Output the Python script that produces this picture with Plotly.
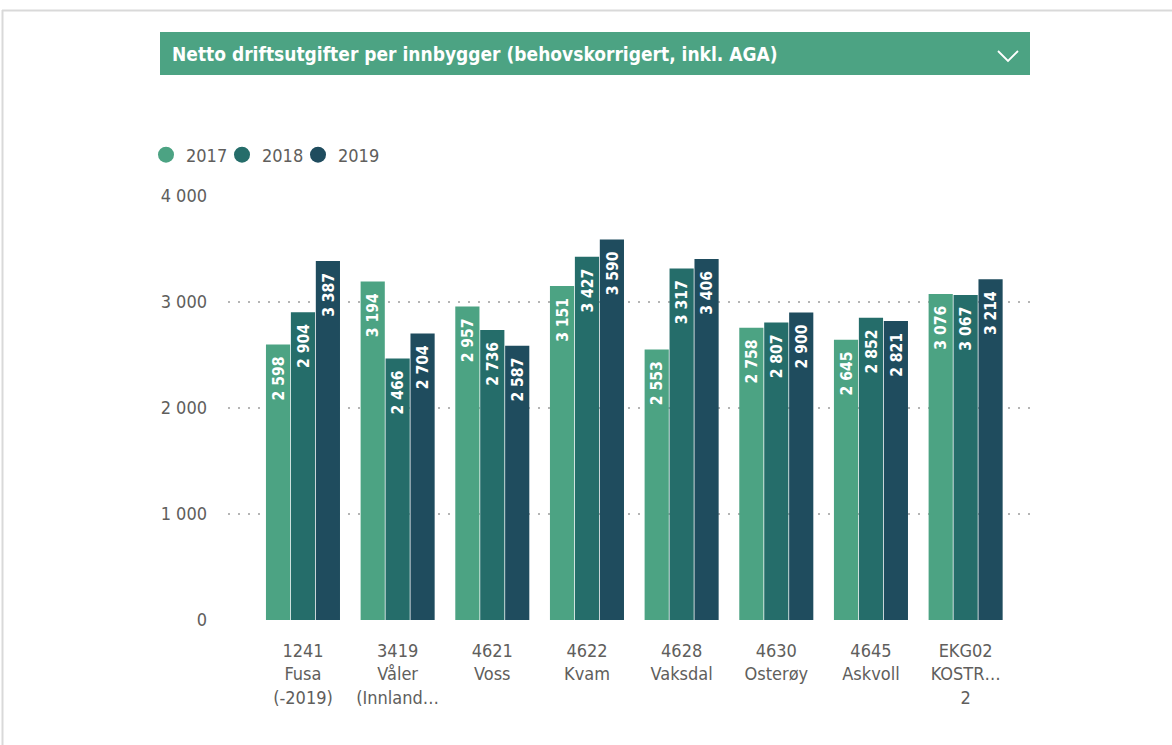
import plotly.graph_objects as go

categories = ["1241<br>Fusa<br>(-2019)", "3419<br>Våler<br>(Innland…", "4621<br>Voss", "4622<br>Kvam",
              "4628<br>Vaksdal", "4630<br>Osterøy", "4645<br>Askvoll", "EKG02<br>KOSTR…<br>2"]
years = ["2017", "2018", "2019"]
v2017 = [2598, 3194, 2957, 3151, 2553, 2758, 2645, 3076]
v2018 = [2904, 2466, 2736, 3427, 3317, 2807, 2852, 3067]
v2019 = [3387, 2704, 2587, 3590, 3406, 2900, 2821, 3214]
y_ticks = [0, 1000, 2000, 3000, 4000]
title_text = "Netto driftsutgifter per innbygger (behovskorrigert, inkl. AGA)"

colors = ["#4CA383", "#256D6A", "#1F4C5E"]
FONT = "DejaVu Sans Condensed"
GRAY = "#605E5C"

W, H = 1172, 745
# plot area in screen pixels
L, R, T, B = 228, 1030, 196, 620


def xp(px):
    return (px - L) / (R - L)


def yp(py):
    return (B - py) / (B - T)


def fmt(v):
    return f"{v:,}".replace(",", " ")


fig = go.Figure()
for i, (name, vals, col) in enumerate(zip(years, [v2017, v2018, v2019], colors)):
    fig.add_trace(go.Bar(
        x=list(range(len(categories))), y=vals, name=name, marker=dict(color=col, line=dict(width=0)),
        text=[f"<b>{fmt(v)}</b>\u00a0\u00a0" for v in vals], textposition="inside", insidetextanchor="end",
        textangle=-90, textfont=dict(color="white", size=18, family=FONT),
        showlegend=False, hoverinfo="x+y",
    ))
    fig.add_trace(go.Scatter(
        x=[None], y=[None], mode="markers", name=name,
        marker=dict(color=col, size=16, symbol="circle"), showlegend=True,
        legendwidth=31 if i < len(years) - 1 else 60,
    ))

fig.update_layout(
    width=W, height=H,
    margin=dict(l=L, r=W - R, t=T, b=H - B, pad=0),
    plot_bgcolor="white", paper_bgcolor="white",
    barmode="group", bargap=0.21, bargroupgap=0.03,
    separators=". ",
    font=dict(family=FONT, color=GRAY, size=17),
    legend=dict(orientation="h", x=xp(146), y=yp(155), xanchor="left", yanchor="middle",
                font=dict(size=18, color=GRAY, family=FONT), itemwidth=30,
                bgcolor="rgba(0,0,0,0)", tracegroupgap=0, traceorder="normal"),
    xaxis=dict(tickmode="array", tickvals=list(range(len(categories))), ticktext=categories,
               range=[-0.792, 7.68], showgrid=False, zeroline=False, showline=False,
               tickfont=dict(size=18, color=GRAY, family=FONT), ticks="", ticklabelstandoff=18),
    yaxis=dict(range=[0, 4000], tickvals=y_ticks, ticktext=[fmt(t) for t in y_ticks],
               showgrid=True, gridcolor="#B5B5B5", griddash="2px,8px", gridwidth=1.5,
               zeroline=False, showline=False, ticks="", ticklabelstandoff=20,
               tickfont=dict(size=18, color=GRAY, family=FONT)),
    shapes=[
        dict(type="rect", xref="paper", yref="paper", x0=xp(160), x1=xp(1030), y0=yp(32), y1=yp(75),
             fillcolor="#4CA383", line=dict(width=0), layer="above"),
        dict(type="path", xref="paper", yref="paper",
             path=f"M {xp(998)} {yp(51)} L {xp(1008)} {yp(61)} L {xp(1018)} {yp(51)}",
             line=dict(color="white", width=1.8), layer="above"),
        dict(type="line", xref="paper", yref="paper", x0=xp(2), x1=xp(1172), y0=yp(10.5), y1=yp(10.5),
             line=dict(color="#D9D9D9", width=2)),
        dict(type="line", xref="paper", yref="paper", x0=xp(2.5), x1=xp(2.5), y0=yp(10), y1=yp(745),
             line=dict(color="#D9D9D9", width=2)),
    ],
    annotations=[
        dict(text=f"<b>{title_text}</b>", xref="paper", yref="paper", x=xp(170), y=yp(54),
             xanchor="left", yanchor="middle", showarrow=False,
             font=dict(color="white", size=19, family=FONT)),
    ],
)

fig.write_html("out.html", config={"displayModeBar": False},
               post_script="document.body.style.margin='0';")
